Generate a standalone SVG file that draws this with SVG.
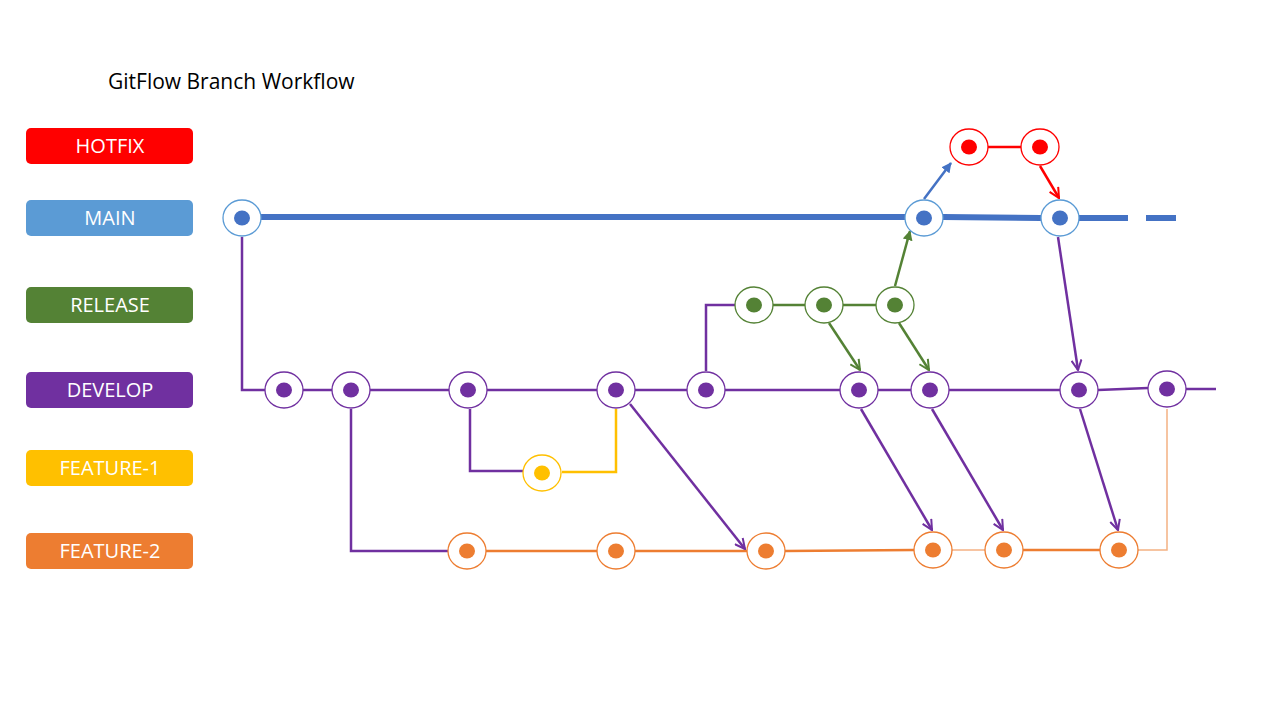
<svg xmlns="http://www.w3.org/2000/svg" width="1280" height="720" viewBox="0 0 1280 720">
<defs>
<style>
.lbl{font-family:"Open Sans","Liberation Sans",sans-serif;font-size:20px;fill:#fff;text-anchor:middle}
.title{font-family:"Open Sans","Liberation Sans",sans-serif;font-size:21px;fill:#000}
.ring{fill:#fff;stroke-width:1.3}
.c{fill:none;stroke-width:2.5}
</style>
<marker id="aP" viewBox="0 0 12 12" refX="11" refY="6" markerWidth="12" markerHeight="12" markerUnits="userSpaceOnUse" orient="auto"><path d="M1,1 L11,6 L1,11" fill="none" stroke="#7030A0" stroke-width="2"/></marker>
<marker id="aG" viewBox="0 0 12 12" refX="11" refY="6" markerWidth="12" markerHeight="12" markerUnits="userSpaceOnUse" orient="auto"><path d="M1,1 L11,6 L1,11" fill="none" stroke="#548235" stroke-width="2"/></marker>
<marker id="aR" viewBox="0 0 12 12" refX="11" refY="6" markerWidth="12" markerHeight="12" markerUnits="userSpaceOnUse" orient="auto"><path d="M1,1 L11,6 L1,11" fill="none" stroke="#FF0000" stroke-width="2"/></marker>
<marker id="aB" viewBox="0 0 12 12" refX="11" refY="6" markerWidth="10" markerHeight="10" markerUnits="userSpaceOnUse" orient="auto"><path d="M0,0 L12,6 L0,12 Z" fill="#4472C4"/></marker>
<marker id="aG2" viewBox="0 0 12 12" refX="11" refY="6" markerWidth="10" markerHeight="10" markerUnits="userSpaceOnUse" orient="auto"><path d="M0,0 L12,6 L0,12 Z" fill="#548235"/></marker>
</defs>
<rect width="1280" height="720" fill="#fff"/>
<text class="title" x="108" y="89">GitFlow Branch Workflow</text>

<g id="labels">
<g id="lbl-hotfix"><rect x="26" y="128" width="167" height="36" rx="5" fill="#FF0000"/><text class="lbl" x="110" y="153">HOTFIX</text></g>
<g id="lbl-main"><rect x="26" y="200" width="167" height="36" rx="5" fill="#5B9BD5"/><text class="lbl" x="110" y="225">MAIN</text></g>
<g id="lbl-release"><rect x="26" y="287" width="167" height="36" rx="5" fill="#548235"/><text class="lbl" x="110" y="312">RELEASE</text></g>
<g id="lbl-develop"><rect x="26" y="372" width="167" height="36" rx="5" fill="#7030A0"/><text class="lbl" x="110" y="397">DEVELOP</text></g>
<g id="lbl-feature1"><rect x="26" y="450" width="167" height="36" rx="5" fill="#FFC000"/><text class="lbl" x="110" y="475">FEATURE-1</text></g>
<g id="lbl-feature2"><rect x="26" y="533" width="167" height="36" rx="5" fill="#ED7D31"/><text class="lbl" x="110" y="558">FEATURE-2</text></g>
</g>

<g id="connectors">
<path d="M261,217 L905,217 M943,217 L1041,218 M1079,218 L1128,218" stroke="#4472C4" stroke-width="6" fill="none"/>
<path d="M1146,218 L1176,218" stroke="#4472C4" stroke-width="6" fill="none"/>
<path class="c" d="M242,237 L242,390 L265,390" stroke="#7030A0"/>
<path class="c" d="M303,390 L332,390 M370,390 L449,390 M487,390 L597,390 M635,390 L687,390 M725,390 L840,390 M878,390 L911,390 M949,390 L1060,390 M1098,390 L1148,388 M1186,389 L1216,389" stroke="#7030A0"/>
<path class="c" d="M706,371 L706,305 L735,305" stroke="#7030A0"/>
<path class="c" d="M773,305 L805,305 M843,305 L876,305" stroke="#548235"/>
<path class="c" d="M988,147 L1021,147" stroke="#FF0000"/>
<path class="c" d="M924,199 L951,163" stroke="#4472C4" marker-end="url(#aB)"/>
<path class="c" d="M1040,166 L1059,198" stroke="#FF0000" marker-end="url(#aR)"/>
<path class="c" d="M895,286 L910,231" stroke="#548235" marker-end="url(#aG2)"/>
<path class="c" d="M829,323 L860,370" stroke="#548235" marker-end="url(#aG)"/>
<path class="c" d="M899,323 L929,370" stroke="#548235" marker-end="url(#aG)"/>
<path class="c" d="M1058,237 L1078,370" stroke="#7030A0" marker-end="url(#aP)"/>
<path class="c" d="M470,409 L470,471 L523,471" stroke="#7030A0"/>
<path class="c" d="M562,472 L616,472 L616,409" stroke="#FFC000"/>
<path class="c" d="M351,409 L351,551 L448,551" stroke="#7030A0"/>
<path class="c" d="M486,551 L597,551 M635,551 L747,551 M785,551 L914,550 M1023,550 L1100,550" stroke="#ED7D31"/>
<path d="M952,550 L985,550" stroke="#F4B183" stroke-width="1.5" fill="none"/>
<path d="M1138,550 L1167,550 L1167,409" stroke="#F4B183" stroke-width="1.5" fill="none"/>
<path class="c" d="M630,404 L745,549" stroke="#7030A0" marker-end="url(#aP)"/>
<path class="c" d="M861,409 L932,530" stroke="#7030A0" marker-end="url(#aP)"/>
<path class="c" d="M932,409 L1003,530" stroke="#7030A0" marker-end="url(#aP)"/>
<path class="c" d="M1080,409 L1118,530" stroke="#7030A0" marker-end="url(#aP)"/>
</g>

<g id="main-nodes">
<g id="m1"><ellipse class="ring" cx="242" cy="218" rx="19" ry="18" stroke="#5B9BD5"/><ellipse cx="242" cy="218" rx="8" ry="7.5" fill="#4472C4"/></g>
<g id="m2"><ellipse class="ring" cx="924" cy="218" rx="19" ry="18" stroke="#5B9BD5"/><ellipse cx="924" cy="218" rx="8" ry="7.5" fill="#4472C4"/></g>
<g id="m3"><ellipse class="ring" cx="1060" cy="218" rx="19" ry="18" stroke="#5B9BD5"/><ellipse cx="1060" cy="218" rx="8" ry="7.5" fill="#4472C4"/></g>
</g>
<g id="hotfix-nodes">
<g id="h1"><ellipse class="ring" cx="969" cy="147" rx="19" ry="18" stroke="#FF0000"/><ellipse cx="969" cy="147" rx="8" ry="7.5" fill="#FF0000"/></g>
<g id="h2"><ellipse class="ring" cx="1040" cy="147" rx="19" ry="18" stroke="#FF0000"/><ellipse cx="1040" cy="147" rx="8" ry="7.5" fill="#FF0000"/></g>
</g>
<g id="release-nodes">
<g id="r1"><ellipse class="ring" cx="754" cy="305" rx="19" ry="18" stroke="#548235"/><ellipse cx="754" cy="305" rx="8" ry="7.5" fill="#548235"/></g>
<g id="r2"><ellipse class="ring" cx="824" cy="305" rx="19" ry="18" stroke="#548235"/><ellipse cx="824" cy="305" rx="8" ry="7.5" fill="#548235"/></g>
<g id="r3"><ellipse class="ring" cx="895" cy="305" rx="19" ry="18" stroke="#548235"/><ellipse cx="895" cy="305" rx="8" ry="7.5" fill="#548235"/></g>
</g>
<g id="develop-nodes">
<g id="d1"><ellipse class="ring" cx="284" cy="390" rx="19" ry="18" stroke="#7030A0"/><ellipse cx="284" cy="390" rx="8" ry="7.5" fill="#7030A0"/></g>
<g id="d2"><ellipse class="ring" cx="351" cy="390" rx="19" ry="18" stroke="#7030A0"/><ellipse cx="351" cy="390" rx="8" ry="7.5" fill="#7030A0"/></g>
<g id="d3"><ellipse class="ring" cx="468" cy="390" rx="19" ry="18" stroke="#7030A0"/><ellipse cx="468" cy="390" rx="8" ry="7.5" fill="#7030A0"/></g>
<g id="d4"><ellipse class="ring" cx="616" cy="390" rx="19" ry="18" stroke="#7030A0"/><ellipse cx="616" cy="390" rx="8" ry="7.5" fill="#7030A0"/></g>
<g id="d5"><ellipse class="ring" cx="706" cy="390" rx="19" ry="18" stroke="#7030A0"/><ellipse cx="706" cy="390" rx="8" ry="7.5" fill="#7030A0"/></g>
<g id="d6"><ellipse class="ring" cx="859" cy="390" rx="19" ry="18" stroke="#7030A0"/><ellipse cx="859" cy="390" rx="8" ry="7.5" fill="#7030A0"/></g>
<g id="d7"><ellipse class="ring" cx="930" cy="390" rx="19" ry="18" stroke="#7030A0"/><ellipse cx="930" cy="390" rx="8" ry="7.5" fill="#7030A0"/></g>
<g id="d8"><ellipse class="ring" cx="1079" cy="390" rx="19" ry="18" stroke="#7030A0"/><ellipse cx="1079" cy="390" rx="8" ry="7.5" fill="#7030A0"/></g>
<g id="d9"><ellipse class="ring" cx="1167" cy="389" rx="19" ry="18" stroke="#7030A0"/><ellipse cx="1167" cy="389" rx="8" ry="7.5" fill="#7030A0"/></g>
</g>
<g id="feature1-nodes">
<g id="f1a"><ellipse class="ring" cx="542" cy="473" rx="19" ry="18" stroke="#FFC000"/><ellipse cx="542" cy="473" rx="8" ry="7.5" fill="#FFC000"/></g>
</g>
<g id="feature2-nodes">
<g id="f2a"><ellipse class="ring" cx="467" cy="551" rx="19" ry="18" stroke="#ED7D31"/><ellipse cx="467" cy="551" rx="8" ry="7.5" fill="#ED7D31"/></g>
<g id="f2b"><ellipse class="ring" cx="616" cy="551" rx="19" ry="18" stroke="#ED7D31"/><ellipse cx="616" cy="551" rx="8" ry="7.5" fill="#ED7D31"/></g>
<g id="f2c"><ellipse class="ring" cx="766" cy="551" rx="19" ry="18" stroke="#ED7D31"/><ellipse cx="766" cy="551" rx="8" ry="7.5" fill="#ED7D31"/></g>
<g id="f2d"><ellipse class="ring" cx="933" cy="550" rx="19" ry="18" stroke="#ED7D31"/><ellipse cx="933" cy="550" rx="8" ry="7.5" fill="#ED7D31"/></g>
<g id="f2e"><ellipse class="ring" cx="1004" cy="550" rx="19" ry="18" stroke="#ED7D31"/><ellipse cx="1004" cy="550" rx="8" ry="7.5" fill="#ED7D31"/></g>
<g id="f2f"><ellipse class="ring" cx="1119" cy="550" rx="19" ry="18" stroke="#ED7D31"/><ellipse cx="1119" cy="550" rx="8" ry="7.5" fill="#ED7D31"/></g>
</g>
</svg>
